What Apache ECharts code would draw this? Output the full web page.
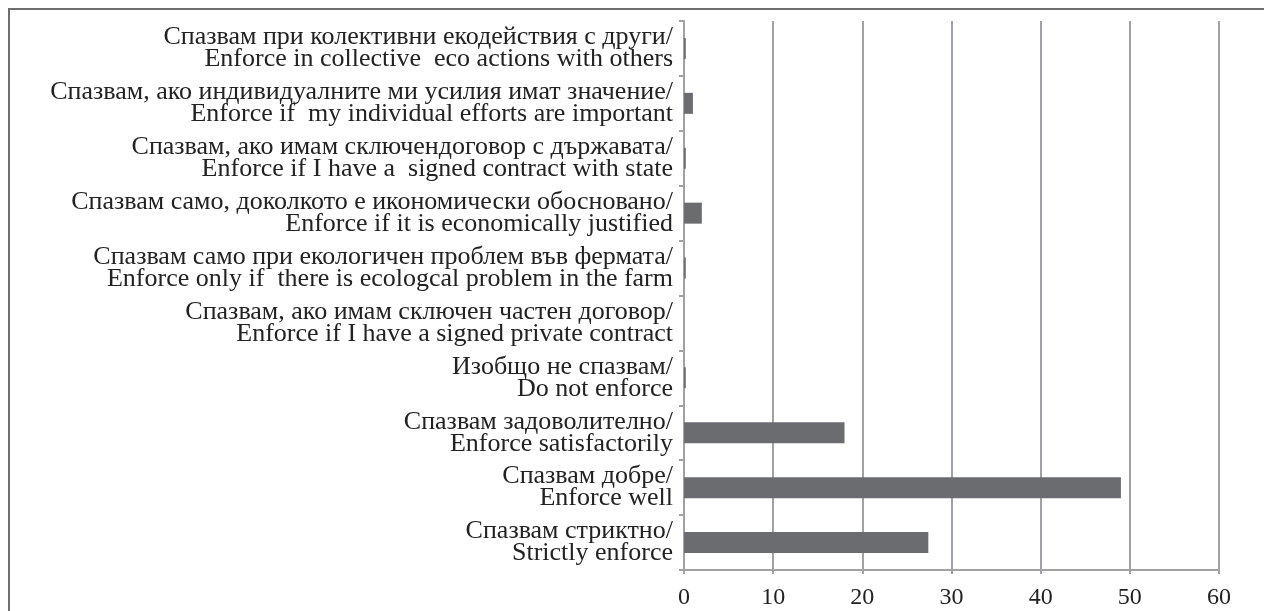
<!DOCTYPE html>
<html>
<head>
<meta charset="utf-8">
<script src="https://cdn.jsdelivr.net/npm/echarts@6/dist/echarts.min.js"></script>
<style>
  html, body { margin: 0; padding: 0; background: #fff; }
  #chart { width: 1264px; height: 611px; }
</style>
</head>
<body>
<div id="chart"></div>
<script>
// categories, bottom to top (the way echarts stacks a category yAxis)
var categories = [
  'Спазвам стриктно/\nStrictly enforce',
  'Спазвам добре/\nEnforce well',
  'Спазвам задоволително/\nEnforce satisfactorily',
  'Изобщо не спазвам/\nDo not enforce',
  'Спазвам, ако имам сключен частен договор/\nEnforce if I have a signed private contract',
  'Спазвам само при екологичен проблем във фермата/\nEnforce only if  there is ecologcal problem in the farm',
  'Спазвам само, доколкото е икономически обосновано/\nEnforce if it is economically justified',
  'Спазвам, ако имам сключендоговор с държавата/\nEnforce if I have a  signed contract with state',
  'Спазвам, ако индивидуалните ми усилия имат значение/\nEnforce if  my individual efforts are important',
  'Спазвам при колективни екодействия с други/\nEnforce in collective  eco actions with others'
];
var values = [27.4, 49, 18, 0.2, 0, 0.2, 2, 0.2, 1, 0.2];
var xTicks = [0, 10, 20, 30, 40, 50, 60];

var chart = echarts.init(document.getElementById('chart'));
var gray = '#a2a2a6';
var option = {
  animation: false,
  textStyle: { fontFamily: 'Liberation Serif' },
  grid: { left: 684, right: 45, top: 21, bottom: 41 },
  graphic: [{
    type: 'rect',
    silent: true,
    shape: { x: 9, y: 9, width: 1400, height: 800 },
    style: { fill: 'none', stroke: '#6e6e6e', lineWidth: 2 }
  }],
  xAxis: {
    type: 'value',
    min: xTicks[0],
    max: xTicks[xTicks.length - 1],
    interval: 10,
    axisLine: { show: true, lineStyle: { color: gray, width: 2 } },
    axisTick: { show: true, length: 4, lineStyle: { color: gray, width: 2 } },
    splitLine: { show: true, lineStyle: { color: gray, width: 2 } },
    axisLabel: { color: '#222', fontSize: 24, margin: 16, fontFamily: 'Liberation Serif' }
  },
  yAxis: {
    type: 'category',
    data: categories,
    axisLine: { show: true, lineStyle: { color: gray, width: 2 } },
    axisTick: { show: true, length: 5, lineStyle: { color: gray, width: 2 } },
    axisLabel: {
      color: '#222',
      fontSize: 26,
      lineHeight: 22,
      margin: 11,
      align: 'right',
      fontFamily: 'Liberation Serif'
    }
  },
  series: [{
    type: 'bar',
    data: values,
    barWidth: 21,
    itemStyle: { color: '#6b6c70' }
  }]
};
chart.setOption(option);
</script>
</body>
</html>
